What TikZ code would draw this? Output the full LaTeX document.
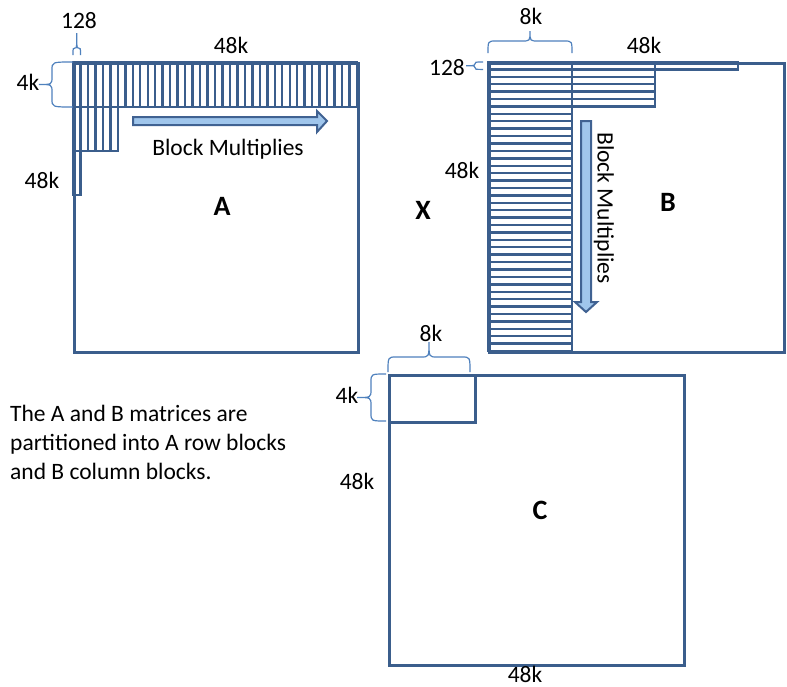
\documentclass[tikz,border=0pt]{standalone}
\usepackage{fontspec}
\setmainfont{Carlito}
\begin{document}
\begin{tikzpicture}[x=1pt,y=-1pt,
  every node/.style={font=\fontsize{23.5}{29}\selectfont, inner sep=0pt},
  mat/.style={draw=matblue, line width=2.6pt, minimum width=#1, anchor=north west},
  strip/.style={draw=matblue, line width=2.4pt},
  brc/.style={draw=brcblue, line width=1.2pt},
  bigarrow/.style={draw=arrblue, fill=arrfill, line width=2pt, line join=miter},
  big/.style={font=\fontsize{28}{32}\selectfont\bfseries}]
\definecolor{matblue}{RGB}{59,94,140}
\definecolor{brcblue}{RGB}{79,129,189}
\definecolor{arrblue}{RGB}{64,98,146}
\definecolor{arrfill}{RGB}{160,198,236}
\useasboundingbox[fill=white] (0,0) rectangle (787,686);

\newcommand\vbrc[5]{% x0 ends, xb body, xt tip, y0, y1
  \pgfmathsetmacro\ymid{(#4+#5)/2}
  \pgfmathsetmacro\rr{min(8,abs(#5-#4)/4)}
  \draw[brc] (#1,#4) .. controls (#2,#4) .. (#2,#4+\rr) -- (#2,\ymid-\rr)
    .. controls (#2,\ymid) .. (#3,\ymid) .. controls (#2,\ymid) .. (#2,\ymid+\rr)
    -- (#2,#5-\rr) .. controls (#2,#5) .. (#1,#5);}
\newcommand\hbrc[5]{% y0 ends, yb body, yt tip, x0, x1
  \pgfmathsetmacro\xmid{(#4+#5)/2}
  \pgfmathsetmacro\rr{min(8,abs(#5-#4)/4)}
  \draw[brc] (#4,#1) .. controls (#4,#2) .. (#4+\rr,#2) -- (\xmid-\rr,#2)
    .. controls (\xmid,#2) .. (\xmid,#3) .. controls (\xmid,#2) .. (\xmid+\rr,#2)
    -- (#5-\rr,#2) .. controls (#5,#2) .. (#5,#1);}

% ---------- Matrix A ----------
\pgfmathsetmacro\wA{284/38}
\foreach \i in {0,...,37}{
  \draw[strip] ({73+\i*\wA},62) rectangle ({73+(\i+1)*\wA},107);}
\foreach \i in {0,...,5}{
  \draw[strip] ({73+\i*\wA},107) rectangle ({73+(\i+1)*\wA},151);}
\draw[strip] (73,151) rectangle ({73+\wA},195);
\node[mat=284pt, minimum height=289pt] (A) at (73,62) {};
\draw[bigarrow] (133,117) -- (317,117) -- (317,111) -- (327,121) -- (317,132)
  -- (317,125) -- (133,125) -- cycle;
\node (amult) at (228,149) {Block Multiplies};
\node[big] (aname) at (222,206) {A};
\node (a128) at (79,21) {128};
\node (a48top) at (231,45) {48k};
\node (a4k) at (28,82) {4k};
\node (a48left) at (42,180) {48k};
\hbrc{55}{48}{33}{73}{80.5}
\vbrc{73}{52}{39}{62}{107}

% ---------- X ----------
\node[big] (times) at (423,210) {X};

% ---------- Matrix B ----------
\pgfmathsetmacro\hB{289/39}
\foreach \i in {0,...,38}{
  \draw[strip] (488,{62+\i*\hB}) rectangle (572,{62+(\i+1)*\hB});}
\foreach \i in {0,...,5}{
  \draw[strip] (572,{62+\i*\hB}) rectangle (655,{62+(\i+1)*\hB});}
\draw[strip] (655,62) rectangle (738,{62+\hB});
\node[mat=295pt, minimum height=289pt] (B) at (488,62) {};
\draw[bigarrow] (581,121) -- (581,302) -- (575,302) -- (586,312) -- (597,302)
  -- (591,302) -- (591,121) -- cycle;
\node[rotate=-90] (bmult) at (604,208) {Block Multiplies};
\node[big] (bname) at (668,202) {B};
\node (b8k) at (531,16) {8k};
\node (b48top) at (644,45) {48k};
\node (b128) at (447,68) {128};
\node (b48left) at (462,170) {48k};
\hbrc{53}{41}{31}{488}{572}
\vbrc{483}{475}{466}{62}{69.4}

% ---------- Matrix C ----------
\node[mat=86pt, minimum height=47pt] (cblk) at (388,374) {};
\node[mat=295pt, minimum height=290pt] (C) at (388,374) {};
\node[big] (cname) at (540,510) {C};
\node (c8k) at (431,333) {8k};
\node (c4k) at (347,395) {4k};
\node (c48left) at (357,481) {48k};
\node (c48bot) at (525,674.5) {48k};
\hbrc{372}{357}{342}{388}{470}
\vbrc{386}{371}{357}{374}{421}

% ---------- Caption ----------
\node[anchor=north west, align=left] (caption) at (10,405)
  {The A and B matrices are\\partitioned into A row blocks\\and B column blocks.};
\end{tikzpicture}
\end{document}
